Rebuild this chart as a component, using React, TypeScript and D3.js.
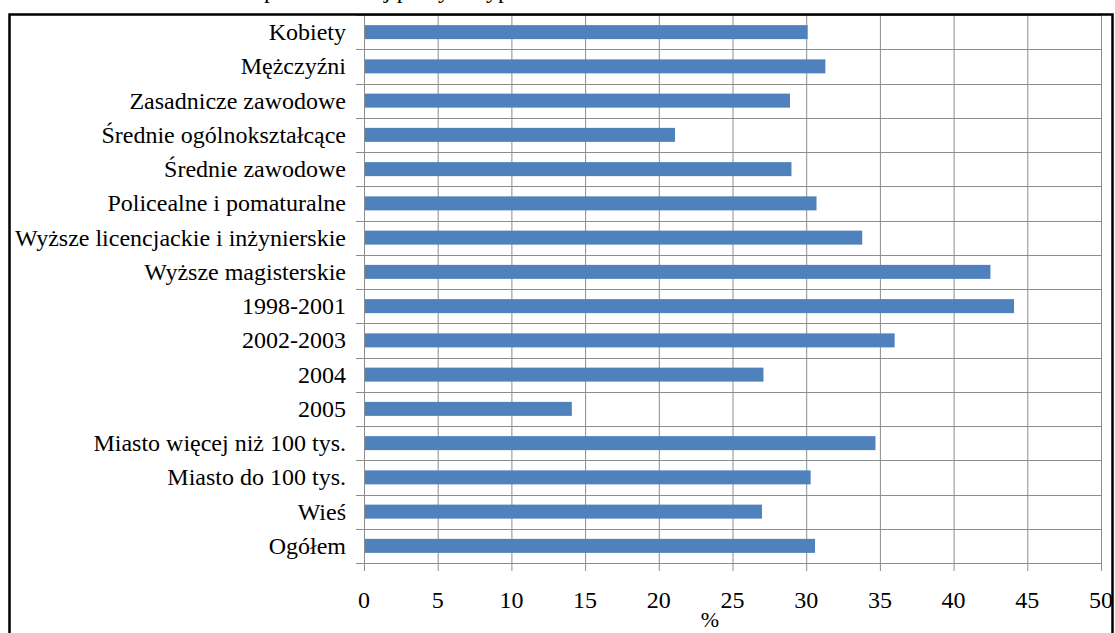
import React from "react";
import * as d3 from "d3";

const categories = [
  "Kobiety",
  "Mężczyźni",
  "Zasadnicze zawodowe",
  "Średnie ogólnokształcące",
  "Średnie zawodowe",
  "Policealne i pomaturalne",
  "Wyższe licencjackie i inżynierskie",
  "Wyższe magisterskie",
  "1998-2001",
  "2002-2003",
  "2004",
  "2005",
  "Miasto więcej niż 100 tys.",
  "Miasto do 100 tys.",
  "Wieś",
  "Ogółem",
];

const values = [30.1, 31.3, 28.9, 21.1, 29.0, 30.7, 33.8, 42.5, 44.1, 36.0, 27.1, 14.1, 34.7, 30.3, 27.0, 30.6];

const xTicks = [0, 5, 10, 15, 20, 25, 30, 35, 40, 45, 50];
const axisTitle = "%";
const titleText = "podstawowej pracy w typie";

const W = 1115;
const H = 633;
const plotLeft = 364;
const plotRight = 1101;
const plotTop = 15;
const plotBottom = 563;
const font =
  '"Liberation Serif", "Times New Roman", Times, "Nimbus Roman", "Nimbus Roman No9 L", FreeSerif, "Noto Serif", "DejaVu Serif", Georgia, serif';
const gridColor = "#8c8c8c";
const barColor = "#4F81BD";
const txt: React.CSSProperties = { fontFamily: font };

export default function App() {
  const x = d3.scaleLinear().domain([0, 50]).range([plotLeft, plotRight]);
  const y = d3
    .scaleBand<string>()
    .domain(categories)
    .range([plotTop, plotBottom])
    .paddingInner(0)
    .paddingOuter(0);
  const bw = y.bandwidth();
  const barH = 14;
  const boundaries = d3.range(categories.length + 1).map((i) => plotTop + i * bw);

  return (
    <svg
      width={W}
      height={H}
      style={{ position: "absolute", left: 0, top: 0, display: "block", fontFamily: font }}
    >
      <rect x={0} y={0} width={W} height={H} fill="#fff" />
      <text x={264} y={-2} fontSize={24} fill="#000" style={txt}>
        {titleText}
      </text>
      {xTicks.map((t) => (
        <line
          key={"g" + t}
          x1={x(t) + 0.5}
          x2={x(t) + 0.5}
          y1={plotTop}
          y2={plotBottom + 8}
          stroke={gridColor}
          strokeWidth={1}
        />
      ))}
      {boundaries.map((b, i) => (
        <line
          key={"h" + i}
          x1={plotLeft - 8}
          x2={plotRight + 0.5}
          y1={Math.round(b) + 0.5}
          y2={Math.round(b) + 0.5}
          stroke={gridColor}
          strokeWidth={1}
        />
      ))}
      {categories.map((c, i) => (
        <rect
          key={"b" + c}
          x={x(0) + 1}
          y={(y(c) as number) + bw / 2 - barH / 2}
          width={x(values[i]) - x(0) - 1}
          height={barH}
          fill={barColor}
        />
      ))}
      {categories.map((c) => (
        <text
          key={"l" + c}
          x={346}
          y={(y(c) as number) + bw / 2 + 8}
          fontSize={24}
          textAnchor="end"
          fill="#000"
          style={txt}
        >
          {c}
        </text>
      ))}
      {xTicks.map((t) => (
        <text key={"t" + t} x={x(t)} y={608} fontSize={24} textAnchor="middle" fill="#000" style={txt}>
          {t}
        </text>
      ))}
      <text x={710} y={627} fontSize={22} textAnchor="middle" fill="#000" style={txt}>
        {axisTitle}
      </text>
      <rect x={9.5} y={14.5} width={1103} height={700} fill="none" stroke="#000" strokeWidth={2.5} />
    </svg>
  );
}
